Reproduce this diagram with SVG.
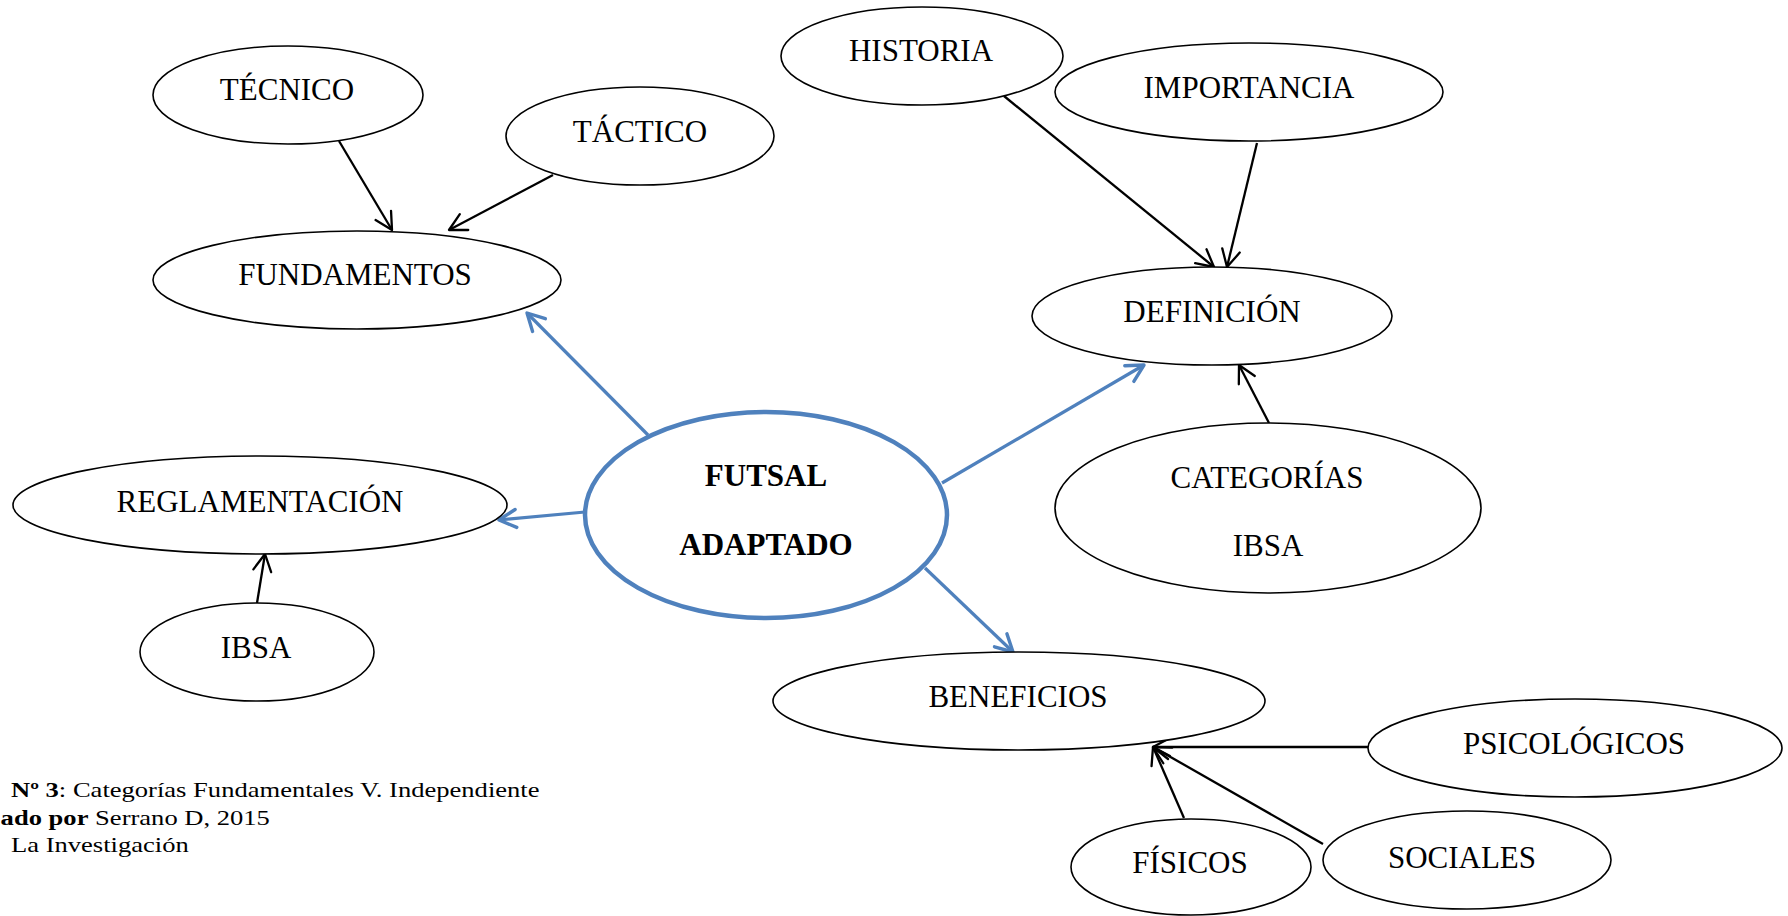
<svg xmlns="http://www.w3.org/2000/svg" width="1788" height="916" viewBox="0 0 1788 916">
<style>
.n ellipse{fill:#fff;stroke:#000;stroke-width:1.6}
.n text{font-family:"Liberation Serif","Times New Roman",serif;font-size:31px;text-anchor:middle;fill:#000}
#futsal ellipse{stroke:#4F81BD;stroke-width:4.5}
#futsal text{font-weight:bold}
.blk{stroke:#000;stroke-width:2.3;fill:none}
.blu{stroke:#4F81BD;stroke-width:3.2;fill:none}
.cap{font-family:"Liberation Serif","Times New Roman",serif;font-size:21px;fill:#000}
</style>
<defs>
<marker id="ab" markerUnits="userSpaceOnUse" markerWidth="24" markerHeight="24" viewBox="0 0 24 24" refX="21" refY="12" orient="auto" overflow="visible">
<path d="M4,3 L21,12 L4,21" fill="none" stroke="#000" stroke-width="2.3" stroke-linejoin="round" stroke-linecap="round"/>
</marker>
<marker id="au" markerUnits="userSpaceOnUse" markerWidth="24" markerHeight="24" viewBox="0 0 24 24" refX="21" refY="12" orient="auto" overflow="visible">
<path d="M4,3 L21,12 L4,21" fill="none" stroke="#4F81BD" stroke-width="3.4" stroke-linejoin="round" stroke-linecap="round"/>
</marker>
</defs>
<rect width="1788" height="916" fill="#fff"/>

<g id="connectors">
<line class="blk" x1="339" y1="141" x2="392" y2="230" marker-end="url(#ab)"/>
<line class="blk" x1="553" y1="175" x2="449" y2="230" marker-end="url(#ab)"/>
<line class="blk" x1="1004" y1="96" x2="1214" y2="267" marker-end="url(#ab)"/>
<line class="blk" x1="1257" y1="143" x2="1227" y2="267" marker-end="url(#ab)"/>
<line class="blk" x1="1269" y1="423" x2="1239" y2="365" marker-end="url(#ab)"/>
<line class="blk" x1="257" y1="603" x2="265" y2="554" marker-end="url(#ab)"/>
<line class="blk" x1="1368" y1="747" x2="1153" y2="747" marker-end="url(#ab)"/>
<line class="blk" x1="1184" y1="818" x2="1153" y2="747" marker-end="url(#ab)"/>
<line class="blk" x1="1323" y1="844" x2="1153" y2="747" marker-end="url(#ab)"/>
<line class="blu" x1="648" y1="435" x2="527" y2="313" marker-end="url(#au)"/>
<line class="blu" x1="585" y1="512" x2="499" y2="520" marker-end="url(#au)"/>
<line class="blu" x1="942" y1="483" x2="1144" y2="365" marker-end="url(#au)"/>
<line class="blu" x1="925" y1="568" x2="1013" y2="652" marker-end="url(#au)"/>
</g>

<g id="tecnico" class="n"><ellipse cx="288" cy="95" rx="135" ry="49"/><text x="287" y="100">TÉCNICO</text></g>
<g id="tactico" class="n"><ellipse cx="640" cy="136" rx="134" ry="49"/><text x="640" y="142">TÁCTICO</text></g>
<g id="fundamentos" class="n"><ellipse cx="357" cy="280" rx="204" ry="49"/><text x="355" y="285">FUNDAMENTOS</text></g>
<g id="historia" class="n"><ellipse cx="922" cy="56" rx="141" ry="49"/><text x="921" y="61">HISTORIA</text></g>
<g id="importancia" class="n"><ellipse cx="1249" cy="92" rx="194" ry="49"/><text x="1249" y="98">IMPORTANCIA</text></g>
<g id="definicion" class="n"><ellipse cx="1212" cy="316" rx="180" ry="49"/><text x="1212" y="322">DEFINICIÓN</text></g>
<g id="reglamentacion" class="n"><ellipse cx="260" cy="505" rx="247" ry="49"/><text x="260" y="512">REGLAMENTACIÓN</text></g>
<g id="ibsa" class="n"><ellipse cx="257" cy="652" rx="117" ry="49"/><text x="256" y="658">IBSA</text></g>
<g id="futsal" class="n"><ellipse cx="766" cy="515" rx="181" ry="103"/><text x="766" y="486">FUTSAL</text><text x="766" y="555">ADAPTADO</text></g>
<g id="categorias" class="n"><ellipse cx="1268" cy="508" rx="213" ry="85"/><text x="1267" y="488">CATEGORÍAS</text><text x="1268" y="556">IBSA</text></g>
<g id="beneficios" class="n"><ellipse cx="1019" cy="701" rx="246" ry="49"/><text x="1018" y="707">BENEFICIOS</text></g>
<g id="psicologicos" class="n"><ellipse cx="1575" cy="748" rx="207" ry="49"/><text x="1574" y="754">PSICOLÓGICOS</text></g>
<g id="fisicos" class="n"><ellipse cx="1191" cy="867" rx="120" ry="48"/><text x="1190" y="873">FÍSICOS</text></g>
<g id="sociales" class="n"><ellipse cx="1467" cy="860" rx="144" ry="49"/><text x="1462" y="868">SOCIALES</text></g>

<g id="caption" transform="matrix(1.265 0 0 1 0 0)">
<text class="cap" x="8.7" y="797"><tspan font-weight="bold">Nº 3</tspan>: Categorías Fundamentales V. Independiente</text>
<text class="cap" x="0.5" y="825"><tspan font-weight="bold">ado por</tspan> Serrano D, 2015</text>
<text class="cap" x="8.7" y="852">La Investigación</text>
</g>
</svg>
